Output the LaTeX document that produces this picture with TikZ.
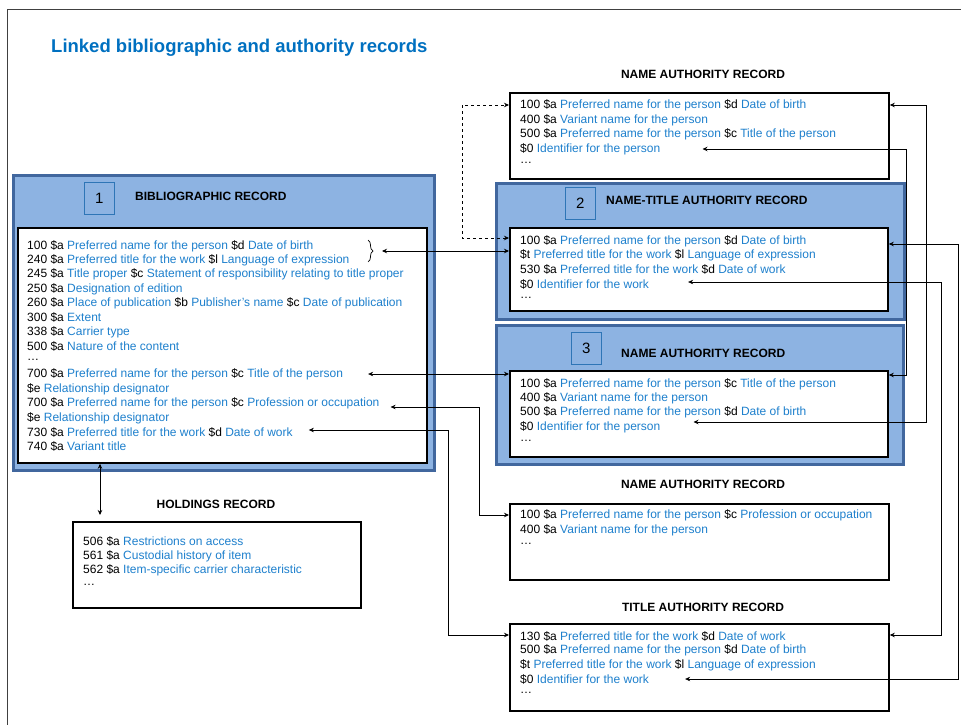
\documentclass[tikz,border=0pt]{standalone}
\usepackage{fontspec}
\setmainfont{Liberation Sans}
\usetikzlibrary{arrows.meta,calc,decorations.pathreplacing}
\definecolor{fieldblue}{RGB}{30,128,205}
\definecolor{titleblue}{RGB}{0,112,192}
\definecolor{recfill}{RGB}{141,179,226}
\definecolor{recedge}{RGB}{65,103,158}
\definecolor{numedge}{RGB}{46,117,182}
\newcommand{\fd}[1]{\textcolor{fieldblue}{#1}}
\begin{document}
\begin{tikzpicture}[x=1pt,y=-1pt,
    every node/.style={font=\fontsize{12}{14.4}\selectfont},
    fline/.style={anchor=west,inner sep=0pt},
    head/.style={font=\fontsize{12}{14.4}\selectfont\bfseries,inner sep=0pt},
    recbox/.style={draw=black,line width=1.8pt,fill=white,anchor=north west,inner sep=0pt},
    bluebox/.style={draw=recedge,line width=2.6pt,fill=recfill,anchor=north west,inner sep=0pt},
    numbox/.style={draw=numedge,line width=0.8pt,fill=recfill,anchor=north west,inner sep=0pt,
        minimum width=30pt,minimum height=32pt,font=\fontsize{15}{18}\selectfont},
    link/.style={{Stealth[length=5pt,width=4.5pt]}-{Stealth[length=5pt,width=4.5pt]},line width=0.7pt}]
    \useasboundingbox (0,0) rectangle (961,725);
    \draw[black!75,line width=0.8pt] (7.5,725) -- (7.5,9) -- (961,9);
    \node[anchor=west,inner sep=0pt,text=titleblue,font=\fontsize{18.5}{22}\selectfont\bfseries] (title) at (51,48)
        {Linked bibliographic and authority records};
    %% bibliographic record
    \node[bluebox,minimum width=421pt,minimum height=295pt] (bibout) at (12,174) {};
    \node[numbox] (num1) at (84,182) {1};
    \node[head,anchor=west] (bibhead) at (135,196) {BIBLIOGRAPHIC RECORD};
    \node[recbox,minimum width=409pt,minimum height=235pt] (bibin) at (17,227) {};
    \node[fline] (b1) at (27,246) {100 \$a \fd{Preferred name for the person} \$d \fd{Date of birth}};
    \node[fline] (b2) at (27,260) {240 \$a \fd{Preferred title for the work} \$l \fd{Language of expression}};
    \node[fline] (b3) at (27,274) {245 \$a \fd{Title proper} \$c \fd{Statement of responsibility relating to title proper}};
    \node[fline] (b4) at (27,289) {250 \$a \fd{Designation of edition}};
    \node[fline] (b5) at (27,303) {260 \$a \fd{Place of publication} \$b \fd{Publisher's name} \$c \fd{Date of publication}};
    \node[fline] (b6) at (27,317) {300 \$a \fd{Extent}};
    \node[fline] (b7) at (27,332) {338 \$a \fd{Carrier type}};
    \node[fline] (b8) at (27,346) {500 \$a \fd{Nature of the content}};
    \node[fline] (b9) at (27,360) {\ldots};
    \node[fline] (b10) at (27,374) {700 \$a \fd{Preferred name for the person} \$c \fd{Title of the person}};
    \node[fline] (b11) at (27,389) {\$e \fd{Relationship designator}};
    \node[fline] (b12) at (27,403) {700 \$a \fd{Preferred name for the person} \$c \fd{Profession or occupation}};
    \node[fline] (b13) at (27,418) {\$e \fd{Relationship designator}};
    \node[fline] (b14) at (27,432) {730 \$a \fd{Preferred title for the work} \$d \fd{Date of work}};
    \node[fline] (b15) at (27,446) {740 \$a \fd{Variant title}};
    \draw[decorate,decoration={brace,amplitude=5pt},line width=0.7pt] (368,240) -- (368,262);
    %% holdings record
    \node[head] (hhead) at (216,504) {HOLDINGS RECORD};
    \node[recbox,minimum width=288pt,minimum height=86pt] (hbox) at (72,521) {};
    \node[fline] (h1) at (83,541) {506 \$a \fd{Restrictions on access}};
    \node[fline] (h2) at (83,556) {561 \$a \fd{Custodial history of item}};
    \node[fline] (h3) at (83,570) {562 \$a \fd{Item-specific carrier characteristic}};
    \node[fline] (h4) at (83,585) {\ldots};
    %% name authority record (top)
    \node[head] (n1head) at (703,74) {NAME AUTHORITY RECORD};
    \node[recbox,minimum width=379pt,minimum height=86pt] (n1box) at (509,92) {};
    \node[fline] (n1a) at (520,105) {100 \$a \fd{Preferred name for the person} \$d \fd{Date of birth}};
    \node[fline] (n1b) at (520,120) {400 \$a \fd{Variant name for the person}};
    \node[fline] (n1c) at (520,134) {500 \$a \fd{Preferred name for the person} \$c \fd{Title of the person}};
    \node[fline] (n1d) at (520,149) {\$0 \fd{Identifier for the person}};
    \node[fline] (n1e) at (520,163) {\ldots};
    %% name-title authority record
    \node[bluebox,minimum width=408pt,minimum height=136pt] (n2out) at (495,182) {};
    \node[numbox] (num2) at (565,187) {2};
    \node[head,anchor=west] (n2head) at (606,200) {NAME-TITLE AUTHORITY RECORD};
    \node[recbox,minimum width=378pt,minimum height=83pt] (n2box) at (509,227) {};
    \node[fline] (n2a) at (520,241) {100 \$a \fd{Preferred name for the person} \$d \fd{Date of birth}};
    \node[fline] (n2b) at (520,255) {\$t \fd{Preferred title for the work} \$l \fd{Language of expression}};
    \node[fline] (n2c) at (520,269) {530 \$a \fd{Preferred title for the work} \$d \fd{Date of work}};
    \node[fline] (n2d) at (520,284) {\$0 \fd{Identifier for the work}};
    \node[fline] (n2e) at (520,298) {\ldots};
    %% name authority record (3)
    \node[bluebox,minimum width=407pt,minimum height=139pt] (n3out) at (495,324) {};
    \node[numbox] (num3) at (571,332) {3};
    \node[head,anchor=west] (n3head) at (621,353) {NAME AUTHORITY RECORD};
    \node[recbox,minimum width=378pt,minimum height=86pt] (n3box) at (509,370) {};
    \node[fline] (n3a) at (520,384) {100 \$a \fd{Preferred name for the person} \$c \fd{Title of the person}};
    \node[fline] (n3b) at (520,398) {400 \$a \fd{Variant name for the person}};
    \node[fline] (n3c) at (520,412) {500 \$a \fd{Preferred name for the person} \$d \fd{Date of birth}};
    \node[fline] (n3d) at (520,427) {\$0 \fd{Identifier for the person}};
    \node[fline] (n3e) at (520,441) {\ldots};
    %% name authority record (bottom)
    \node[head] (n4head) at (703,484) {NAME AUTHORITY RECORD};
    \node[recbox,minimum width=379pt,minimum height=76pt] (n4box) at (509,503) {};
    \node[fline] (n4a) at (520,515) {100 \$a \fd{Preferred name for the person} \$c \fd{Profession or occupation}};
    \node[fline] (n4b) at (520,530) {400 \$a \fd{Variant name for the person}};
    \node[fline] (n4c) at (520,544) {\ldots};
    %% title authority record
    \node[head] (n5head) at (703,607) {TITLE AUTHORITY RECORD};
    \node[recbox,minimum width=379pt,minimum height=87pt] (n5box) at (509,623) {};
    \node[fline] (n5a) at (520,636) {130 \$a \fd{Preferred title for the work} \$d \fd{Date of work}};
    \node[fline] (n5b) at (520,650) {500 \$a \fd{Preferred name for the person} \$d \fd{Date of birth}};
    \node[fline] (n5c) at (520,665) {\$t \fd{Preferred title for the work} \$l \fd{Language of expression}};
    \node[fline] (n5d) at (520,679) {\$0 \fd{Identifier for the work}};
    \node[fline] (n5e) at (520,693) {\ldots};
    %% links
    \coordinate (brtip) at (382,251);
    \coordinate (hx) at (100,515);
    \coordinate (ca) at (906,375);
    \coordinate (cb) at (926,422);
    \coordinate (cc) at (941,635);
    \coordinate (cd) at (958,679);
    \coordinate (ce) at (448,635);
    \coordinate (cf) at (479,515);
    \draw[link] (brtip) -- (brtip -| n2box.west);
    \draw[link,dashed] ($(n2box.west |- n2a)+(0,-3)$) -- ++(-47,0) |- (n1box.west |- n1a);
    \draw[link] ($(b10.east)+(25,0)$) -- (b10.east -| n3box.west);
    \draw[link] ($(b12.east)+(11,4)$) -| (cf) -- (n4box.west |- cf);
    \draw[link] ($(b14.east)+(16,-2)$) -| (ce) -- (n5box.west |- ce);
    \draw[link] (bibin.south -| hx) -- (hx);
    \draw[link] ($(n1d.east)+(42,0)$) -| (ca) -- (n3box.east |- ca);
    \draw[link] (n1box.east |- n1a) -| (cb) -- ($(n3d.east)+(33,-5)$);
    \draw[link] ($(n2d.east)+(39,-2)$) -| (cc) -- (n5box.east |- cc);
    \draw[link] ($(n2box.east |- n2a)+(0,3)$) -| (cd) -- ($(n5d.east)+(36,0)$);
\end{tikzpicture}
\end{document}
